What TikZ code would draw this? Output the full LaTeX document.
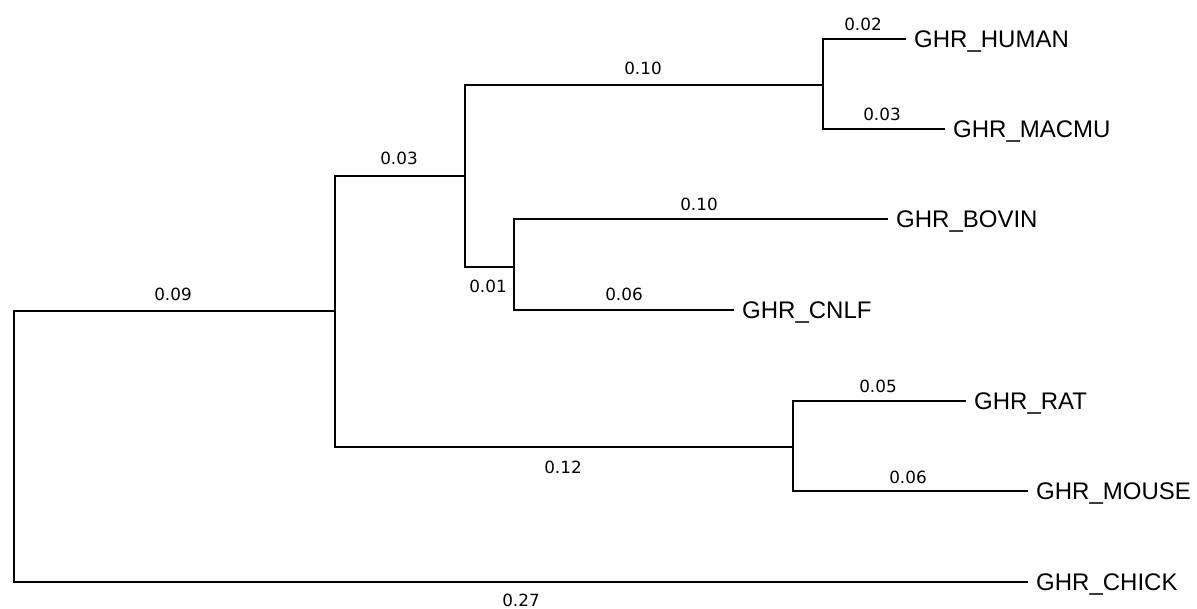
\documentclass[tikz,border=0pt]{standalone}
\usepackage{fontspec}
\setmainfont{Liberation Sans}
\newfontfamily\numfont{DejaVu Sans}
\begin{document}
\begin{tikzpicture}[x=1pt,y=-1pt,
  branch/.style={line width=1.4pt,line cap=rect},
  taxon/.style={anchor=west,inner xsep=9pt,inner ysep=0pt,text height=17.2pt,text depth=0pt,
    font=\fontsize{24}{24}\selectfont},
  blen/.style={inner sep=0pt,text height=12pt,text depth=0pt,
    font=\numfont\fontsize{16.8}{16.8}\selectfont}]
\useasboundingbox (0,0) rectangle (1197,609);
% internal nodes
\coordinate (r)  at (14,446);
\coordinate (n1) at (335,311);
\coordinate (n2) at (465,176);
\coordinate (n3) at (823,85);
\coordinate (n4) at (514,267);
\coordinate (n5) at (793,447);
% leaves
\node[taxon] (human) at (905,39)  {GHR\_HUMAN};
\node[taxon] (macmu) at (944,129) {GHR\_MACMU};
\node[taxon] (bovin) at (887,219) {GHR\_BOVIN};
\node[taxon] (cnlf)  at (733,310) {GHR\_CNLF};
\node[taxon] (rat)   at (965,401) {GHR\_RAT};
\node[taxon] (mouse) at (1027,491) {GHR\_MOUSE};
\node[taxon] (chick) at (1027,582) {GHR\_CHICK};
% branches
\draw[branch] (r) |- (n1);
\draw[branch] (r) |- (chick.west);
\draw[branch] (n1) |- (n2);
\draw[branch] (n1) |- (n5);
\draw[branch] (n2) |- (n3);
\draw[branch] (n2) |- (n4);
\draw[branch] (n3) |- (human.west);
\draw[branch] (n3) |- (macmu.west);
\draw[branch] (n4) |- (bovin.west);
\draw[branch] (n4) |- (cnlf.west);
\draw[branch] (n5) |- (rat.west);
\draw[branch] (n5) |- (mouse.west);
% branch lengths
\node[blen] (l1)  at (173,295) {0.09};
\node[blen] (l2)  at (399,159) {0.03};
\node[blen] (l3)  at (643,69)  {0.10};
\node[blen] (l4)  at (863,25)  {0.02};
\node[blen] (l5)  at (882,115) {0.03};
\node[blen] (l6)  at (699,205) {0.10};
\node[blen] (l7)  at (488,287) {0.01};
\node[blen] (l8)  at (624,295) {0.06};
\node[blen] (l9)  at (878,387) {0.05};
\node[blen] (l10) at (908,477) {0.06};
\node[blen] (l11) at (563,467) {0.12};
\node[blen] (l12) at (521,600) {0.27};
\end{tikzpicture}
\end{document}
